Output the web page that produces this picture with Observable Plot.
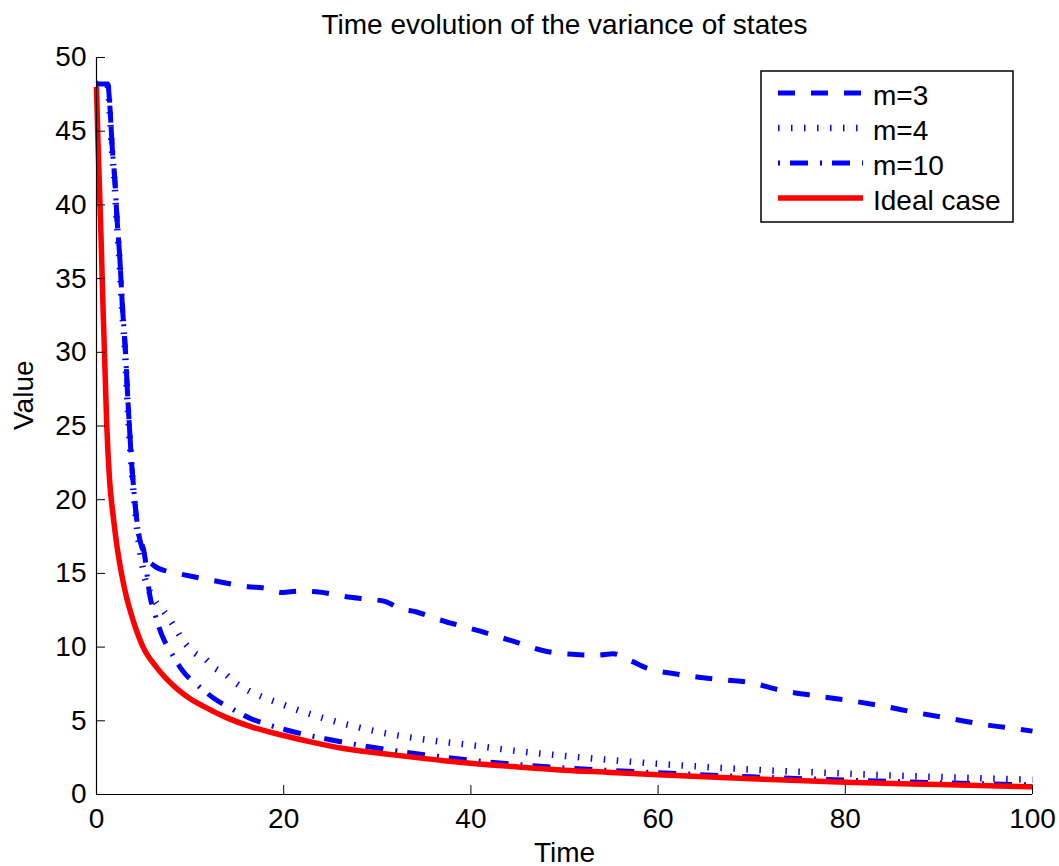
<!DOCTYPE html>
<html><head><meta charset="utf-8">
<script src="https://cdn.jsdelivr.net/npm/d3@7"></script>
<script src="https://cdn.jsdelivr.net/npm/@observablehq/plot@0.6"></script>
<style>body{margin:0;background:#fff;}</style>
</head><body><div id="chart"></div>
<script>
const titleText = "Time evolution of the variance of states";
const xLabel = "Time";
const yLabel = "Value";
const xTicks = [0, 20, 40, 60, 80, 100];
const yTicks = [0, 5, 10, 15, 20, 25, 30, 35, 40, 45, 50];
const seriesNames = ["m=3", "m=4", "m=10", "Ideal case"];

const m3Time  = [0,1.2,1.45,1.67,1.98,2.2,2.5,2.75,3.1,3.3,3.56,3.75,3.9,4.45,5.34,6.2,7.5,9,12.6,16.2,18,19.9,21.5,23.5,26.9,29,30.8,32.5,34.1,36.4,38,41,44.5,48,51.6,53.5,55.2,57,58.8,62.3,65.9,67.5,69.6,73.2,76.8,80.4,84.1,87.7,91.4,95,98.6,100];
const m3Value = [48.2,48.2,46.5,44,41.5,39,36.3,33.3,30,27.4,24.5,22.5,21.3,17.9,16.1,15.5,15.15,14.95,14.5,14.1,14.0,13.7,13.8,13.75,13.4,13.25,13.1,12.6,12.4,11.9,11.6,11.08,10.4,9.72,9.48,9.45,9.55,9.1,8.58,8.14,7.85,7.75,7.62,7.06,6.7,6.38,5.99,5.54,5.13,4.73,4.43,4.3];

const m4Time  = [0,1.15,1.4,1.62,1.93,2.15,2.45,2.7,3.05,3.25,3.5,3.7,3.85,4.4,5.0,6.2,7.1,8.2,9.4,10.5,11.6,12.6,13.7,14.8,15.8,19.7,23.6,27.7,31.8,35.9,40,45.6,50,59.2,65,71.9,80,85,92,100];
const m4Value = [48.2,48.2,46.5,44,41.5,39,36.3,33.3,30,27.4,24.5,22.5,21.3,17.7,15.2,13.2,12.5,11.5,10.3,9.6,9.2,8.6,8.2,7.6,7.2,6.15,5.3,4.6,4.05,3.66,3.35,2.9,2.62,2.12,1.87,1.63,1.42,1.29,1.15,1.0];

const m10Time  = [0,1.2,1.45,1.67,1.98,2.2,2.5,2.75,3.1,3.3,3.56,3.75,3.9,4.45,5.1,5.7,6.3,7,8,9.2,11,12.6,14.5,16.3,18,20.5,24.7,30,35,40,50,60,70,80,90,100];
const m10Value = [48.2,48.2,46.5,44,41.5,39,36.3,33.3,30,27.4,24.5,22.5,21.3,17.9,16.4,13.5,12.1,10.8,9.6,8.4,7.3,6.5,5.8,5.2,4.8,4.34,3.75,3.15,2.7,2.33,1.8,1.48,1.2,0.98,0.8,0.65];

const idealTime  = [0,0.15,0.3,0.5,0.7,0.9,1.1,1.4,1.8,2.2,2.67,3.2,3.92,4.98,6.4,8.55,10,11.4,13.6,16.5,20,23,26.4,30.5,34.9,40,45,50,55,60,70,80,90,100];
const idealValue = [48,44.5,41.5,37.5,33,29,25,21.3,18.8,16.8,15.0,13.4,11.8,10.0,8.64,7.2,6.5,6.0,5.3,4.6,4.0,3.55,3.12,2.78,2.45,2.12,1.87,1.65,1.5,1.34,1.07,0.83,0.67,0.52];

const toRows = (ts, vs) => ts.map((t, i) => ({t, v: vs[i]}));
const styles = [
  {stroke: "#0000ff", strokeWidth: 5, strokeDasharray: "17,16"},
  {stroke: "#0000ff", strokeWidth: 6.5, strokeDasharray: "1.5,11.5"},
  {stroke: "#0000ff", strokeWidth: 5, strokeDasharray: "2,10,18,12"},
  {stroke: "#ff0000", strokeWidth: 5.5, strokeDasharray: null}
];
const series = [
  toRows(m3Time, m3Value),
  toRows(m4Time, m4Value),
  toRows(m10Time, m10Value),
  toRows(idealTime, idealValue)
];

const W = 1059, H = 866, mL = 96, mR = 27, mT = 57, mB = 72;
const innerW = W - mL - mR, innerH = H - mT - mB;
const font = "'Liberation Sans', Arial, Helvetica, sans-serif";

const chart = Plot.plot({
  width: W, height: H,
  marginLeft: mL, marginRight: mR, marginTop: mT, marginBottom: mB,
  style: {fontFamily: font, fontSize: "28px", background: "#fff", color: "#000"},
  x: {domain: [0, 100]},
  y: {domain: [0, 50]},
  marks: [
    ...series.map((rows, i) => Plot.line(rows, {
      x: "t", y: "v", curve: "monotone-x",
      stroke: styles[i].stroke, strokeWidth: styles[i].strokeWidth,
      strokeDasharray: styles[i].strokeDasharray, strokeLinecap: "butt", strokeLinejoin: "round"
    })),
    Plot.ruleX([0], {stroke: "#000", strokeWidth: 1.2}),
    Plot.ruleY([0], {stroke: "#000", strokeWidth: 1.2}),
    Plot.tickX(xTicks, {x: d => d, insetTop: innerH - 9, stroke: "#000"}),
    Plot.tickY(yTicks, {y: d => d, insetRight: innerW - 9, stroke: "#000"}),
    Plot.axisX({ticks: xTicks, tickSize: 0, tickPadding: 14, fontSize: 28, label: null, tickFormat: d => String(d)}),
    Plot.axisY({ticks: yTicks, tickSize: 0, tickPadding: 10, fontSize: 28, label: null, tickFormat: d => String(d)}),
    Plot.text([xLabel], {text: d => d, frameAnchor: "bottom", dy: 67, fontSize: 28}),
    Plot.text([yLabel], {text: d => d, frameAnchor: "left", dx: -72, dy: 4, rotate: -90, fontSize: 28}),
    Plot.text([titleText], {text: d => d, frameAnchor: "top", dy: -43, fontSize: 28})
  ]
});
document.getElementById("chart").appendChild(chart);

// legend
const svg = d3.select(chart);
const lg = svg.append("g").attr("font-family", font).attr("font-size", 28).attr("text-anchor", "start");
lg.append("rect").attr("x", 761).attr("y", 71).attr("width", 252).attr("height", 151)
  .attr("fill", "#fff").attr("stroke", "#000").attr("stroke-width", 1.5);
seriesNames.forEach((name, i) => {
  const y = 93 + i * 35;
  lg.append("line").attr("x1", 778).attr("x2", 863).attr("y1", y).attr("y2", y)
    .attr("stroke", styles[i].stroke).attr("stroke-width", styles[i].strokeWidth)
    .attr("stroke-dasharray", styles[i].strokeDasharray).attr("stroke-linecap", "butt");
  lg.append("text").attr("x", 873).attr("y", y + 2).attr("dominant-baseline", "central")
    .attr("text-anchor", "start").attr("fill", "#000").text(name);
});
</script></body></html>
